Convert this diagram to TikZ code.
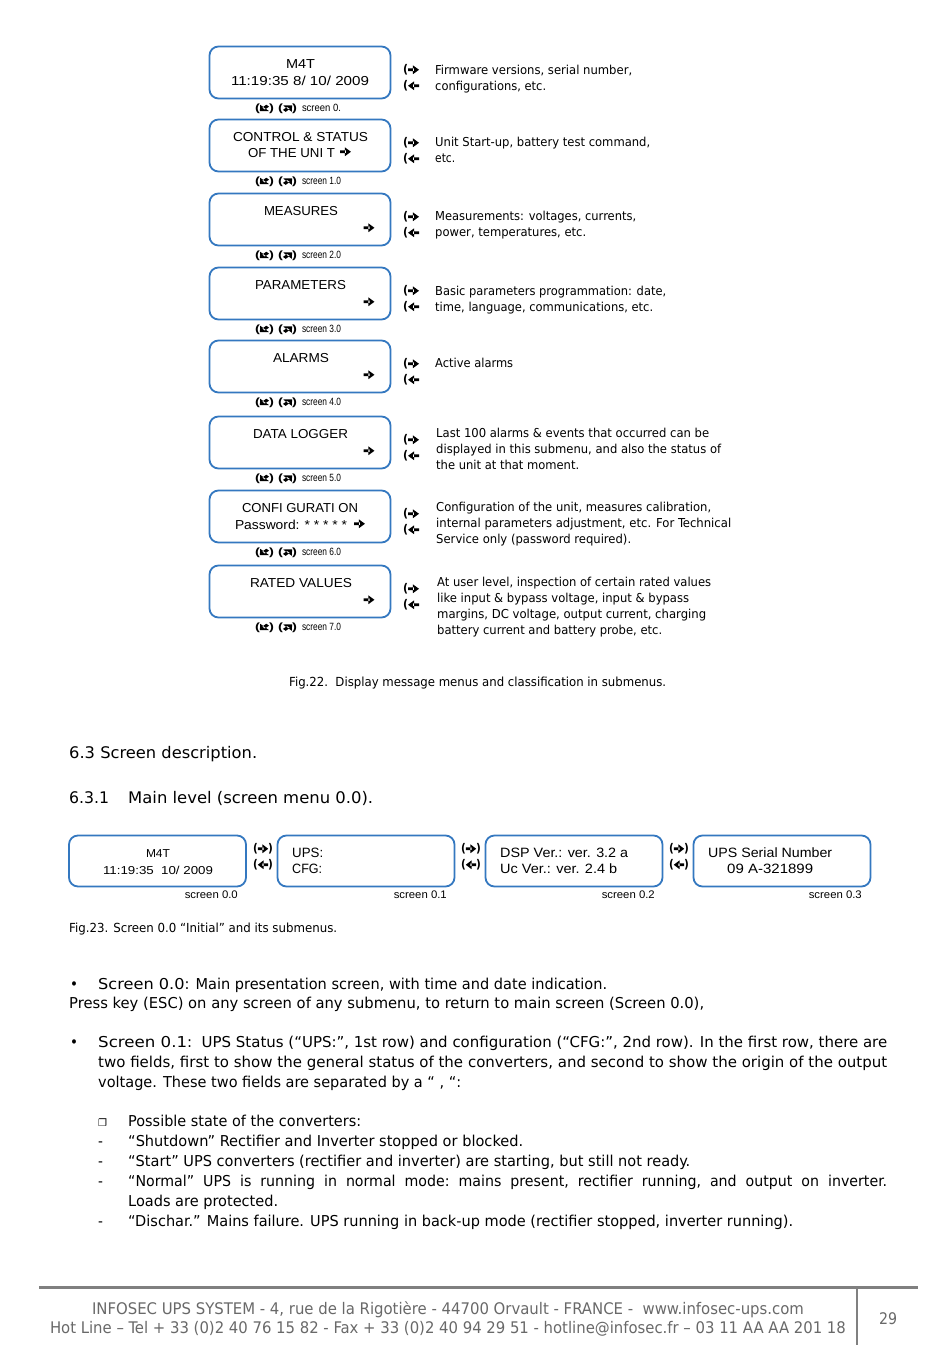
\documentclass[tikz,border=0pt]{standalone}
\usepackage{fontspec}
\setmainfont{DejaVu Sans Condensed}
\newfontfamily\arialf{Liberation Sans}
\newfontfamily\djv{DejaVu Sans}
\definecolor{boxblue}{RGB}{52,120,192}
\definecolor{footgray}{RGB}{128,128,128}
\definecolor{txtgray}{RGB}{105,105,105}
\newsavebox\fitbox
\newcommand\hfit[2]{\sbox\fitbox{#2}\scalebox{\fpeval{#1/\the\wd\fitbox}}[1]{\usebox\fitbox}}
\newcommand\arrowglyph[1]{\tikz[x=1em,y=1em,baseline=-0.33em]{\fill[rotate around={#1:(0.45,0)}] (0,-0.11) rectangle (0.5,0.11) (0.4,-0.37) -- (0.9,0) -- (0.4,0.37) -- cycle;}}
\newcommand\diagglyph[1]{\tikz[x=1em,y=1em,baseline=-0.33em]{\fill[rotate around={#1:(0.35,0)}] (0,-0.13) rectangle (0.4,0.13) (0.3,-0.42) -- (0.75,0) -- (0.3,0.42) -- cycle;}}
\newcommand\RA{\arrowglyph{0}}
\newcommand\LA{\arrowglyph{180}}
\newcommand\DLA{\diagglyph{225}}
\newcommand\URA{\diagglyph{45}}
\newcommand\scrl[1]{\hfit{42}{{\arialf\bfseries(}\DLA{\arialf\bfseries)}\ {\arialf\bfseries(}\URA{\arialf\bfseries)}}\hspace{5pt}\hfit{39}{\arialf #1}}
\tikzset{
  scr/.style={draw=boxblue, line width=1.8pt, rounded corners=9pt, minimum width=181, minimum height=52, inner sep=0},
  scrb/.style={draw=boxblue, line width=1.8pt, rounded corners=9pt, minimum width=177, minimum height=51, inner sep=0},
  btxt/.style={font=\arialf\fontsize{13}{15}\selectfont, inner sep=0, anchor=mid, yshift=-3pt},
  btxtw/.style={font=\arialf\fontsize{13.5}{15}\selectfont, inner sep=0, anchor=mid west, yshift=-3pt},
  barr/.style={font=\fontsize{12}{13}\selectfont, inner sep=0, anchor=mid, yshift=-1pt},
  lbl/.style={font=\fontsize{10.5}{11}\selectfont, inner sep=0, anchor=mid, yshift=-2pt},
  desc/.style={font=\fontsize{12.3}{14}\selectfont, inner sep=0, anchor=mid west, yshift=-3pt},
  body/.style={font=\fontsize{15}{18}\selectfont, inner sep=0, anchor=mid west, yshift=-3.5pt},
  figcap/.style={font=\fontsize{12.5}{14}\selectfont, inner sep=0, anchor=mid west, yshift=-3pt},
  head/.style={font=\djv\fontsize{16}{18}\selectfont, inner sep=0, anchor=mid west, yshift=-3.5pt},
  foot/.style={font=\fontsize{16}{18}\selectfont, text=txtgray, inner sep=0, anchor=mid, yshift=-3.5pt},
}
\begin{document}
\begin{tikzpicture}[x=1pt,y=-1pt]
\useasboundingbox[fill=white] (0,0) rectangle (950,1360);
% ---------- top menu column ----------
\foreach \i/\yt/\s in {1/46/screen 0., 2/119/screen 1.0, 3/193/screen 2.0, 4/267/screen 3.0, 5/340/screen 4.0, 6/416/screen 5.0, 7/490/screen 6.0, 8/565/screen 7.0}{
  \node[scr] (box\i) at (300,\yt+26.5) {};
  \node[lbl] (lbl\i) at (298,\yt+61) {\scrl{\s}};
  \node[barr] (ra\i) at (411,\yt+24) {\hfit{16}{{\bfseries(}\RA}};
  \node[barr] (la\i) at (411,\yt+40) {\hfit{16}{{\bfseries(}\LA}};
}
% box texts
\node[btxt] (t1a) at (300.5,63) {\hfit{29}{M4T}};
\node[btxt] (t1b) at (300,80) {\hfit{138}{11:19:35 8/ 10/ 2009}};
\node[btxt] (t2a) at (300.5,136) {\hfit{135}{CONTROL \& STATUS}};
\node[btxt] (t2b) at (291.5,152) {\hfit{87}{OF THE UNI T}};
\node[barr] (a2) at (345.5,152) {\RA};
\node[btxt] (t3) at (301,210) {\hfit{74}{MEASURES}};
\node[barr] (a3) at (369,228) {\RA};
\node[btxt] (t4) at (300.5,284) {\hfit{91}{PARAMETERS}};
\node[barr] (a4) at (369,302) {\RA};
\node[btxt] (t5) at (301,357) {\hfit{56}{ALARMS}};
\node[barr] (a5) at (369,375) {\RA};
\node[btxt] (t6) at (300.5,433) {\hfit{95}{DATA LOGGER}};
\node[barr] (a6) at (369,451) {\RA};
\node[btxt] (t7a) at (300,507) {\hfit{116}{CONFI GURATI ON}};
\node[btxt] (t7b) at (291,524) {\hfit{112}{Password: * * * * *}};
\node[barr] (a7) at (359.5,524) {\RA};
\node[btxt] (t8) at (301,582) {\hfit{102}{RATED VALUES}};
\node[barr] (a8) at (369,600) {\RA};
% descriptions
\node[desc] (d1a) at (435,69) {\hfit{197}{Firmware versions, serial number,}};
\node[desc] (d1b) at (435,85) {\hfit{111}{configurations, etc.}};
\node[desc] (d2a) at (435,141) {\hfit{215}{Unit Start-up, battery test command,}};
\node[desc] (d2b) at (435,157) {\hfit{20}{etc.}};
\node[desc] (d3a) at (435,215) {\hfit{201}{Measurements: voltages, currents,}};
\node[desc] (d3b) at (435,231) {\hfit{151}{power, temperatures, etc.}};
\node[desc] (d4a) at (435,290) {\hfit{231}{Basic parameters programmation: date,}};
\node[desc] (d4b) at (435,306) {\hfit{218}{time, language, communications, etc.}};
\node[desc] (d5) at (435,362) {\hfit{78}{Active alarms}};
\node[desc] (d6a) at (436,432) {\hfit{273}{Last 100 alarms \& events that occurred can be}};
\node[desc] (d6b) at (436,448) {\hfit{285}{displayed in this submenu, and also the status of}};
\node[desc] (d6c) at (436,464) {\hfit{143}{the unit at that moment.}};
\node[desc] (d7a) at (436,506) {\hfit{275}{Configuration of the unit, measures calibration,}};
\node[desc] (d7b) at (436,522) {\hfit{295}{internal parameters adjustment, etc. For Technical}};
\node[desc] (d7c) at (436,538) {\hfit{195}{Service only (password required).}};
\node[desc] (d8a) at (437,581) {\hfit{274}{At user level, inspection of certain rated values}};
\node[desc] (d8b) at (437,597) {\hfit{252}{like input \& bypass voltage, input \& bypass}};
\node[desc] (d8c) at (437,613) {\hfit{269}{margins, DC voltage, output current, charging}};
\node[desc] (d8d) at (437,629) {\hfit{225}{battery current and battery probe, etc.}};
\node[figcap] (fig22) at (289,681) {\hfit{377}{Fig.22.\ \ Display message menus and classification in submenus.}};
% ---------- headings ----------
\node[head] (h63) at (69,752) {\hfit{188}{6.3 Screen description.}};
\node[head] (h631n) at (69,797) {\hfit{40}{6.3.1}};
\node[head] (h631) at (128,797) {\hfit{245}{Main level (screen menu 0.0).}};
% ---------- main level row ----------
\node[scrb] (s0) at (157.5,861) {};
\node[scrb] (s1) at (366,861) {};
\node[scrb] (s2) at (574,861) {};
\node[scrb] (s3) at (782,861) {};
\node[btxt, font=\arialf\fontsize{11.5}{13}\selectfont] (s0a) at (158,852) {\hfit{24}{M4T}};
\node[btxt, font=\arialf\fontsize{11.5}{13}\selectfont] (s0b) at (158,869) {\hfit{110}{11:19:35\ \ 10/ 2009}};
\node[btxtw] (s1a) at (292,852) {\hfit{31}{UPS:}};
\node[btxtw] (s1b) at (292,868) {\hfit{30}{CFG:}};
\node[btxtw] (s2a) at (500,852) {\hfit{128}{DSP Ver.: ver. 3.2 a}};
\node[btxtw] (s2b) at (500,868) {\hfit{117}{Uc Ver.: ver. 2.4 b}};
\node[btxtw] (s3a) at (708,852) {\hfit{124}{UPS Serial Number}};
\node[btxtw] (s3b) at (727,868) {\hfit{86}{09 A-321899}};
\foreach \n/\x in {01/263, 12/471, 23/679}{
  \node[barr] (r\n) at (\x,849) {\hfit{20}{{\bfseries(}\RA{\bfseries)}}};
  \node[barr] (l\n) at (\x,865) {\hfit{20}{{\bfseries(}\LA{\bfseries)}}};
}
\foreach \n/\x in {0/238, 1/447, 2/655, 3/862}{
  \node[lbl, font=\arialf\fontsize{11}{12}\selectfont, anchor=mid east] (sl\n) at (\x,894) {\hfit{53}{screen 0.\n}};
}
\node[figcap] (fig23) at (69,927) {\hfit{268}{Fig.23. Screen 0.0 “Initial” and its submenus.}};
% ---------- body text ----------
\node[body] (b1) at (70,983) {•};
\node[body] (b1a) at (98,983) {\hfit{509}{{\djv Screen 0.0}: Main presentation screen, with time and date indication.}};
\node[body] (b1b) at (69,1002) {\hfit{635}{Press key (ESC) on any screen of any submenu, to return to main screen (Screen 0.0),}};
\node[body] (b2) at (70,1041) {•};
\node[body] (b2a) at (98,1041) {\hfit{789}{{\djv Screen 0.1}:\ \ UPS Status (“UPS:”, 1st row) and configuration (“CFG:”, 2nd row). In the first row, there are}};
\node[body] (b2b) at (98,1061) {\hfit{789}{two fields, first to show the general status of the converters, and second to show the origin of the output}};
\node[body] (b2c) at (98,1081) {\hfit{363}{voltage. These two fields are separated by a “ , “:}};
\node[body, font=\djv\fontsize{10}{12}\selectfont] (sq) at (98,1120) {❐};
\node[body] (p0) at (128,1120) {\hfit{233}{Possible state of the converters:}};
\node[body] (m1) at (98,1140) {-};
\node[body] (p1) at (128,1140) {\hfit{395}{“Shutdown” Rectifier and Inverter stopped or blocked.}};
\node[body] (m2) at (98,1160) {-};
\node[body] (p2) at (128,1160) {\hfit{562}{“Start” UPS converters (rectifier and inverter) are starting, but still not ready.}};
\node[body] (m3) at (98,1180) {-};
\node[body] (p3) at (128,1180) {\hfit{759}{“Normal”\ \ UPS\ \ is\ \ running\ \ in\ \ normal\ \ mode:\ \ mains\ \ present,\ \ rectifier\ \ running,\ \ and\ \ output\ \ on\ \ inverter.}};
\node[body] (p3b) at (128,1200) {\hfit{150}{Loads are protected.}};
\node[body] (m4) at (98,1220) {-};
\node[body] (p4) at (128,1220) {\hfit{665}{“Dischar.” Mains failure. UPS running in back-up mode (rectifier stopped, inverter running).}};
% ---------- footer ----------
\coordinate (fl) at (39,1287);
\coordinate (fr) at (918,1287);
\coordinate (vt) at (857,1287);
\coordinate (vb) at (857,1345);
\draw[footgray, line width=3pt] (fl) -- (fr);
\draw[footgray, line width=2.5pt] (vt) -- (vb);
\node[foot] (f1) at (448,1308) {\hfit{712}{INFOSEC UPS SYSTEM - 4, rue de la Rigotière - 44700 Orvault - FRANCE -\ \ www.infosec-ups.com}};
\node[foot] (f2) at (448,1327) {\hfit{796}{Hot Line – Tel + 33 (0)2 40 76 15 82 - Fax + 33 (0)2 40 94 29 51 - hotline@infosec.fr – 03 11 AA AA 201 18}};
\node[foot] (pg) at (888,1318) {\hfit{18}{29}};
\end{tikzpicture}
\end{document}
